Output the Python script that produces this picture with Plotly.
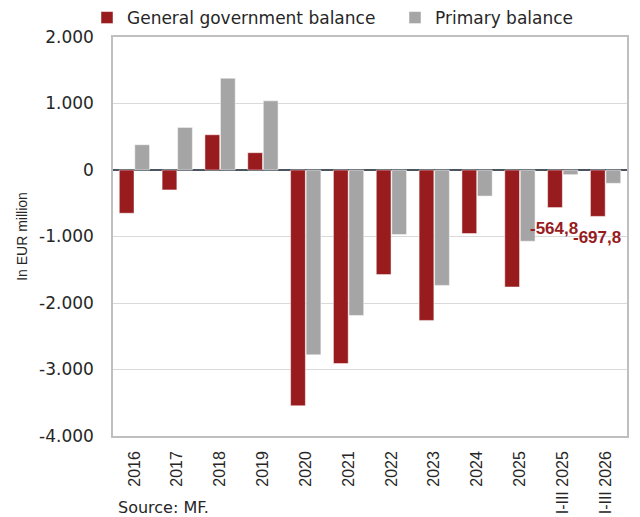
import plotly.graph_objects as go

categories = ["2016", "2017", "2018", "2019", "2020", "2021", "2022", "2023",
              "2024", "2025", "I-III 2025", "I-III 2026"]
general_government_balance = [-650, -300, 530, 260, -3545, -2910, -1573, -2262,
                              -955, -1759, -564.8, -697.8]
primary_balance = [380, 640, 1380, 1040, -2780, -2187, -970, -1735,
                   -392, -1071, -70, -200]
labelled_categories = ["I-III 2025", "I-III 2026"]
ytick_vals = [2000, 1000, 0, -1000, -2000, -3000, -4000]
ytick_text = ["2.000", "1.000", "0", "-1.000", "-2.000", "-3.000", "-4.000"]

RED = "#981B1E"
GREY = "#A5A5A5"

fig = go.Figure()
fig.add_trace(go.Bar(
    x=categories, y=general_government_balance, name="General government balance",
    marker=dict(color=RED, line=dict(color="rgba(255,255,255,0.6)", width=0.8)),
    legendwidth=263,
))
fig.add_trace(go.Bar(
    x=categories, y=primary_balance, name="Primary balance",
    marker=dict(color=GREY, line=dict(color="rgba(255,255,255,0.6)", width=0.8)),
    legendwidth=150,
))

def fmt(v):
    return f"{v:.1f}".replace(".", ",")

for cat, val in zip(categories, general_government_balance):
    if cat in labelled_categories:
        fig.add_annotation(
            x=cat, y=val, xref="x", yref="y", text=fmt(val), showarrow=False,
            xshift=-9, yshift=-21, yanchor="middle", xanchor="center",
            font=dict(family="Liberation Sans, Arial", size=17, color=RED, weight="bold"),
        )

fig.add_annotation(
    text="Source: MF.", xref="paper", yref="paper", x=0.006, y=-0.178,
    xanchor="left", yanchor="middle", showarrow=False,
    font=dict(family="DejaVu Sans", size=16, color="#262626"),
)

fig.update_layout(
    width=640, height=517,
    margin=dict(l=105, r=21, t=29, b=89, autoexpand=False),
    paper_bgcolor="white", plot_bgcolor="white",
    barmode="group", bargap=0.275, bargroupgap=0.05,
    showlegend=True,
    legend=dict(
        orientation="h", x=79 / 640, xref="container", xanchor="left",
        y=1 - 10 / 517, yref="container", yanchor="middle",
        font=dict(family="DejaVu Sans", size=17, color="#262626"),
        bgcolor="rgba(0,0,0,0)", itemclick=False,
    ),
    xaxis=dict(
        type="category", tickangle=-90,
        tickfont=dict(family="Liberation Sans, Arial", size=16, color="#262626"),
        showline=True, linecolor="#BFBFBF", linewidth=1.5, mirror=True,
        showgrid=False, ticks="", ticklabelstandoff=7,
    ),
    yaxis=dict(
        range=[-4000, 2000], tickvals=ytick_vals, ticktext=ytick_text,
        tickfont=dict(family="DejaVu Sans", size=17, color="#262626"),
        showline=True, linecolor="#BFBFBF", linewidth=1.5, mirror=True,
        showgrid=True, gridcolor="#D9D9D9", gridwidth=1,
        zeroline=True, zerolinecolor="#4A5560", zerolinewidth=1.8,
        ticks="", ticklabelstandoff=14,
        title=dict(text="In EUR million", standoff=8,
                   font=dict(family="Liberation Sans, Arial", size=14, color="#262626")),
    ),
)

fig.write_html("out.html")
